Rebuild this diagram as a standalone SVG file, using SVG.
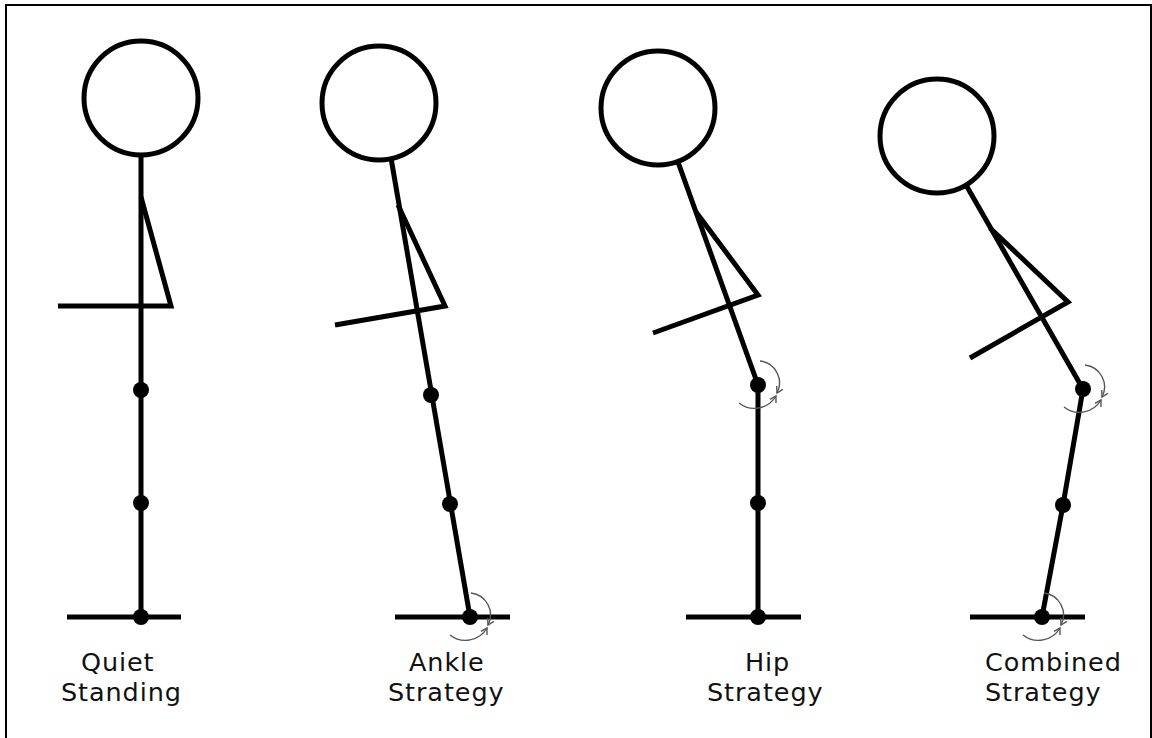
<svg xmlns="http://www.w3.org/2000/svg" width="1152" height="738" viewBox="0 0 1152 738">
  <style>
    .limb { fill: none; stroke: #000; stroke-width: 5; stroke-linecap: butt; stroke-linejoin: miter; }
    .head { fill: #fff; stroke: #000; stroke-width: 5; }
    .joint { fill: #000; }
    .turn { fill: none; stroke: #555; stroke-width: 1.4; marker-end: url(#tip); }
    .label { font-family: "DejaVu Sans", Verdana, sans-serif; font-size: 25.5px; letter-spacing: 0.9px; fill: #111; }
  </style>
  <defs>
    <marker id="tip" markerWidth="10" markerHeight="10" refX="0" refY="0" viewBox="-8 -5 10 10" orient="auto" markerUnits="userSpaceOnUse">
      <path d="M-6,-3.5 L0,0 L-6,3.5" fill="none" stroke="#555" stroke-width="1.4"/>
    </marker>
    <!-- pair of rotation arrows drawn around a joint at the origin -->
    <g id="rotation">
      <path class="turn" d="M1,-24 A22 22 0 0 1 18,8"/>
      <path class="turn" d="M-20,18 A25 25 0 0 0 17,11"/>
    </g>
  </defs>

  <rect x="6" y="5" width="1145" height="745" fill="#fff" stroke="#000" stroke-width="2"/>

  <!-- quiet standing -->
  <g id="quiet-standing">
    <line class="limb" x1="141" y1="155" x2="141" y2="617"/>
    <polyline class="limb" points="141,197 171,306 58,306"/>
    <line class="limb" x1="67" y1="617" x2="181" y2="617"/>
    <circle class="head" cx="141" cy="98" r="57"/>
    <circle class="joint" cx="141" cy="390" r="8"/>
    <circle class="joint" cx="141" cy="503" r="8"/>
    <circle class="joint" cx="141" cy="617" r="8"/>
    <text class="label" x="81" y="671">Quiet</text>
    <text class="label" x="61" y="701">Standing</text>
  </g>

  <!-- ankle strategy -->
  <g id="ankle-strategy">
    <line class="limb" x1="470" y1="617" x2="391" y2="158"/>
    <polyline class="limb" points="398,205 445,306 335,325"/>
    <line class="limb" x1="395" y1="617" x2="510" y2="617"/>
    <circle class="head" cx="379" cy="103" r="57"/>
    <circle class="joint" cx="431" cy="395" r="8"/>
    <circle class="joint" cx="450" cy="504" r="8"/>
    <circle class="joint" cx="470" cy="617" r="8"/>
    <text class="label" x="409" y="671">Ankle</text>
    <text class="label" x="388" y="701">Strategy</text>
  </g>

  <!-- hip strategy -->
  <g id="hip-strategy">
    <line class="limb" x1="758" y1="385" x2="678" y2="162"/>
    <polyline class="limb" points="696,212 758,295 653,333"/>
    <line class="limb" x1="758" y1="385" x2="758" y2="617"/>
    <line class="limb" x1="686" y1="617" x2="801" y2="617"/>
    <circle class="head" cx="658" cy="108" r="57"/>
    <circle class="joint" cx="758" cy="385" r="8"/>
    <circle class="joint" cx="758" cy="503" r="8"/>
    <circle class="joint" cx="758" cy="617" r="8"/>
    <text class="label" x="745" y="671">Hip</text>
    <text class="label" x="707" y="701">Strategy</text>
  </g>

  <!-- combined strategy -->
  <g id="combined-strategy">
    <line class="limb" x1="1083" y1="389" x2="966" y2="185"/>
    <polyline class="limb" points="990,228 1068,302 970,358"/>
    <polyline class="limb" points="1083,389 1063,505 1042,617"/>
    <line class="limb" x1="970" y1="617" x2="1085" y2="617"/>
    <circle class="head" cx="937" cy="136" r="57"/>
    <circle class="joint" cx="1083" cy="389" r="8"/>
    <circle class="joint" cx="1063" cy="505" r="8"/>
    <circle class="joint" cx="1042" cy="617" r="8"/>
    <text class="label" x="985" y="671">Combined</text>
    <text class="label" x="985" y="701">Strategy</text>
  </g>

  <!-- rotation arrows at the moving joints -->
  <g id="connectors">
    <use href="#rotation" transform="translate(470,617)"/>
    <use href="#rotation" transform="translate(759,385)"/>
    <use href="#rotation" transform="translate(1084,389)"/>
    <use href="#rotation" transform="translate(1043,617)"/>
  </g>
</svg>
